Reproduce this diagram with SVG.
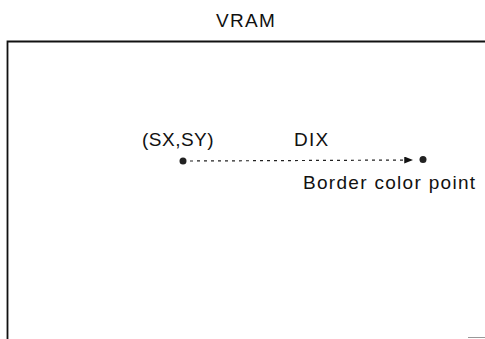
<svg xmlns="http://www.w3.org/2000/svg" width="485" height="339" viewBox="0 0 485 339">
  <style>
    .t { font-family: "Liberation Sans", Arial, sans-serif; font-size: 19px; fill: #111; letter-spacing: 1.3px; }
    .frame { fill: none; stroke: #111; stroke-width: 1.8; }
    .dash { stroke: #222; stroke-width: 1.2; stroke-dasharray: 3 4; fill: none; }
    .pt { fill: #222; }
  </style>
  <defs>
    <marker id="arr" viewBox="0 0 10 8" refX="10" refY="4" markerWidth="10" markerHeight="7" markerUnits="userSpaceOnUse" orient="auto">
      <path d="M0,0 L10,4 L0,8 Z" fill="#111"/>
    </marker>
  </defs>
  <rect width="485" height="339" fill="#fff"/>
  <g id="vram">
    <polyline class="frame" points="7.5,339 7.5,41.5 485,41.5"/>
    <line x1="468" y1="337.5" x2="485" y2="337.5" stroke="#999" stroke-width="1"/>
    <text class="t" x="246" y="27" text-anchor="middle">VRAM</text>
  </g>
  <g id="start">
    <circle class="pt" cx="183" cy="161" r="3.5"/>
    <text class="t" x="142" y="146" style="letter-spacing:0.5px">(SX,SY)</text>
  </g>
  <g id="end">
    <circle class="pt" cx="423" cy="159.5" r="3.5"/>
    <text class="t" x="303" y="189">Border color point</text>
  </g>
  <g id="connectors">
    <line class="dash" x1="190" y1="161" x2="413" y2="160" marker-end="url(#arr)"/>
    <text class="t" x="294" y="146">DIX</text>
  </g>
</svg>
